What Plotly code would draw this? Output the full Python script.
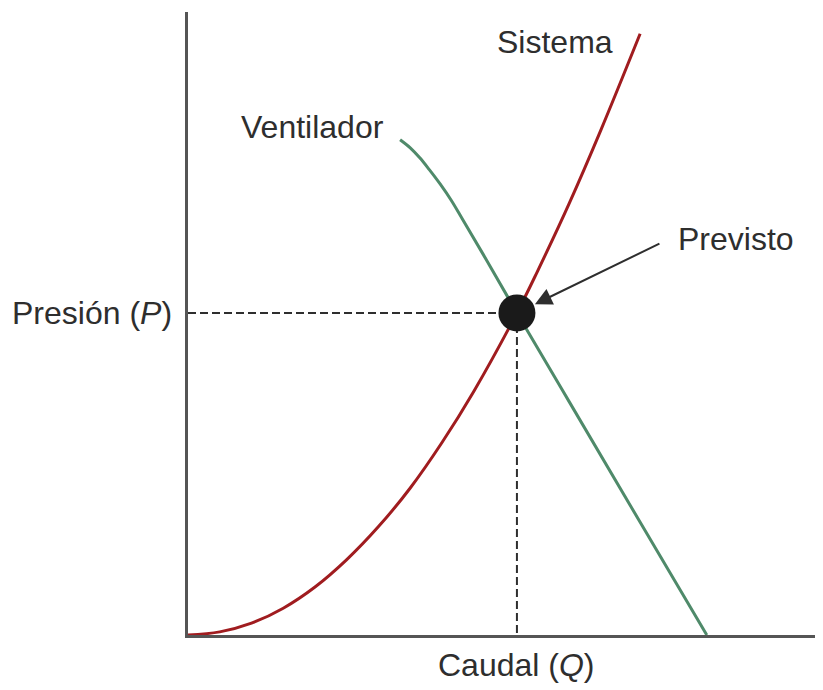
import plotly.graph_objects as go

# Data (arbitrary units, 0-100 on both axes)
sistema_q = [0, 5, 10, 15, 20, 25, 30, 35, 40, 45, 51.8, 55, 60, 65, 71.2]
sistema_p = [0, 0.5, 1.9, 4.3, 7.7, 12.1, 17.4, 23.6, 30.9, 39.1, 51.7, 58.3, 69.2, 81.0, 96.5]

ventilador_q = [33.4, 35.0, 36.5, 38.0, 39.7, 41.5, 43.3, 47.0, 51.8, 60.0, 70.0, 81.7]
ventilador_p = [79.5, 78.2, 76.6, 74.7, 72.4, 69.7, 66.6, 60.2, 51.7, 37.5, 20.2, 0]

previsto_q = 51.8
previsto_p = 51.7

labels = {
    "sistema": "Sistema",
    "ventilador": "Ventilador",
    "previsto": "Previsto",
    "presion": "Presión (<i>P</i>)",
    "caudal": "Caudal (<i>Q</i>)",
}

RED = "#a01c1f"
GREEN = "#4f8a6a"
DARK = "#2e2e2e"
FONT = "Liberation Sans, Arial, sans-serif"
FS = 32

fig = go.Figure()

# dashed guide lines
fig.add_trace(go.Scatter(x=[0, previsto_q], y=[previsto_p, previsto_p], mode="lines",
                         line=dict(color=DARK, width=2, dash="8px,4px"), hoverinfo="skip"))
fig.add_trace(go.Scatter(x=[previsto_q, previsto_q], y=[previsto_p, 0], mode="lines",
                         line=dict(color=DARK, width=2, dash="8px,4px"), hoverinfo="skip"))

fig.add_trace(go.Scatter(x=ventilador_q, y=ventilador_p, mode="lines",
                         line=dict(color=GREEN, width=3, shape="spline", smoothing=1.0)))
fig.add_trace(go.Scatter(x=sistema_q, y=sistema_p, mode="lines",
                         line=dict(color=RED, width=3, shape="spline", smoothing=1.0)))

fig.add_trace(go.Scatter(x=[previsto_q], y=[previsto_p], mode="markers",
                         marker=dict(color="#1a1a1a", size=37)))

ann = [
    dict(x=67.2, y=95.2, xref="x", yref="y", text=labels["sistema"], showarrow=False,
         xanchor="right", yanchor="middle"),
    dict(x=31.2, y=81.5, xref="x", yref="y", text=labels["ventilador"], showarrow=False,
         xanchor="right", yanchor="middle"),
    dict(x=76.8, y=63.5, xref="x", yref="y", text=labels["previsto"], showarrow=False,
         xanchor="left", yanchor="middle"),
    dict(x=0, y=previsto_p, xref="paper", yref="y", text=labels["presion"], showarrow=False,
         xanchor="right", yanchor="middle", xshift=-14),
    dict(x=previsto_q, y=0, xref="x", yref="paper", text=labels["caudal"], showarrow=False,
         xanchor="center", yanchor="top", yshift=-10),
    dict(x=previsto_q, y=previsto_p, xref="x", yref="y", text="", showarrow=True,
         ax=144, ay=-70, arrowhead=2, arrowsize=1.7, arrowwidth=2, arrowcolor=DARK,
         standoff=20),
]
for a in ann:
    a["font"] = dict(family=FONT, size=FS, color=DARK)

fig.update_layout(
    width=815, height=682,
    margin=dict(l=180, r=0, t=4, b=55),
    paper_bgcolor="white", plot_bgcolor="white",
    showlegend=False,
    annotations=ann,
    xaxis=dict(range=[0, 100], showgrid=False, zeroline=False, showticklabels=False,
               ticks="", showline=True, linecolor="#555555", linewidth=3, fixedrange=True),
    yaxis=dict(range=[0, 100], showgrid=False, zeroline=False, showticklabels=False,
               ticks="", showline=True, linecolor="#555555", linewidth=3, fixedrange=True),
)

fig.write_html("out.html")
